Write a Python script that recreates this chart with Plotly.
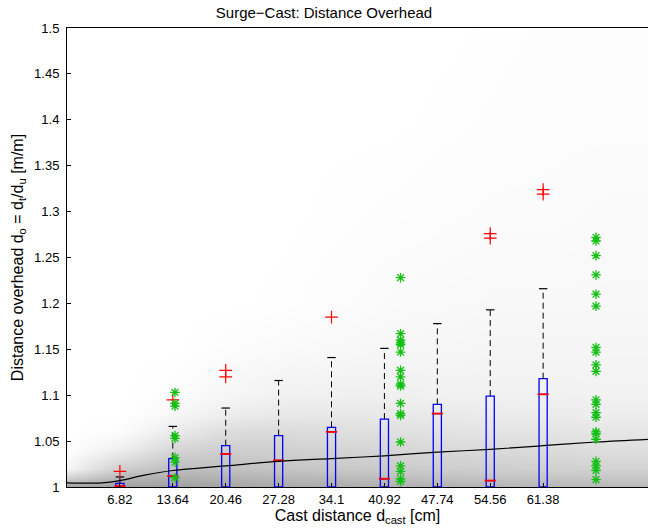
import plotly.graph_objects as go

# ---- data ----
cast_dist = [6.82, 13.64, 20.46, 27.28, 34.1, 40.92, 47.74, 54.56, 61.38]
tick_labels = ["6.82", "13.64", "20.46", "27.28", "34.1", "40.92", "47.74", "54.56", "61.38"]
q1 = [1.0, 1.0, 1.0, 1.0, 1.0, 1.0, 1.0, 1.0, 1.0]
median = [1.001, 1.012, 1.036, 1.029, 1.060, 1.009, 1.080, 1.007, 1.101]
q3 = [1.004, 1.031, 1.045, 1.056, 1.065, 1.074, 1.090, 1.099, 1.118]
upper_whisker = [1.011, 1.066, 1.086, 1.116, 1.141, 1.151, 1.178, 1.193, 1.216]

outlier_x = [6.82, 13.64, 20.46, 20.46, 34.1, 54.56, 54.56, 61.38, 61.38]
outlier_y = [1.017, 1.095, 1.127, 1.120, 1.185, 1.276, 1.271, 1.324, 1.319]

star_a_x = 13.92
star_a_y = [1.103, 1.091, 1.088, 1.056, 1.053, 1.032, 1.027, 1.010]
star_b_x = 43.0
star_b_y = [1.228, 1.167, 1.160, 1.157, 1.155, 1.147, 1.127, 1.120, 1.112, 1.110,
            1.091, 1.080, 1.078, 1.049, 1.023, 1.017, 1.009, 1.006]
star_c_x = 68.2
star_c_y = [1.272, 1.268, 1.252, 1.231, 1.210, 1.197, 1.152, 1.147, 1.133, 1.126,
            1.095, 1.090, 1.081, 1.076, 1.060, 1.058, 1.052, 1.028, 1.023, 1.018, 1.008]

mean_x = [0, 4.5, 6.82, 10, 13.64, 20.46, 27.28, 34.1, 40.92, 47.74, 54.56, 61.38, 68.2, 75]
mean_y = [1.0045, 1.0045, 1.007, 1.013, 1.018, 1.023, 1.028, 1.031, 1.034, 1.038, 1.041, 1.045, 1.049, 1.052]

# background density (gray level 0-255)
bg_x = [0, 7, 14, 21, 28, 35, 42, 49, 56, 63, 70, 75]
bg_y = [1.0, 1.01, 1.02, 1.04, 1.06, 1.08, 1.10, 1.15, 1.2, 1.3, 1.4, 1.5]
bg_gray = [
    [160, 160, 160, 165, 170, 172, 175, 178, 180, 182, 185, 185],
    [210, 180, 175, 178, 182, 186, 190, 192, 195, 196, 198, 198],
    [245, 205, 190, 192, 196, 200, 202, 205, 206, 208, 210, 210],
    [255, 238, 212, 206, 208, 212, 214, 217, 218, 219, 222, 222],
    [255, 252, 234, 220, 218, 222, 224, 226, 228, 228, 230, 230],
    [255, 255, 247, 237, 232, 232, 233, 234, 235, 236, 237, 237],
    [255, 255, 252, 246, 241, 240, 240, 241, 241, 241, 242, 242],
    [255, 255, 255, 252, 250, 248, 246, 246, 245, 245, 245, 245],
    [255, 255, 255, 255, 254, 252, 250, 249, 248, 248, 248, 248],
    [255, 255, 255, 255, 255, 254, 253, 252, 251, 251, 250, 250],
    [255, 255, 255, 255, 255, 255, 255, 254, 253, 252, 252, 252],
    [255, 255, 255, 255, 255, 255, 255, 255, 254, 253, 253, 253],
]

fig = go.Figure()

fig.add_trace(go.Heatmap(
    x=bg_x, y=bg_y, z=bg_gray, zmin=0, zmax=255, zsmooth="best",
    colorscale=[[0, "rgb(0,0,0)"], [1, "rgb(255,255,255)"]],
    showscale=False, hoverinfo="skip"))

# whiskers (dashed black)
for xv, top, w in zip(cast_dist, q3, upper_whisker):
    fig.add_trace(go.Scatter(x=[xv, xv], y=[top, w], mode="lines",
                             line=dict(color="black", width=1, dash="6px,4px"),
                             showlegend=False, hoverinfo="skip"))
fig.add_trace(go.Scatter(x=cast_dist, y=upper_whisker, mode="markers",
                         marker=dict(symbol="line-ew-open", size=6, color="black",
                                     line=dict(color="black", width=1.2)),
                         showlegend=False, hoverinfo="skip"))

# boxes
for xv, a, m, b in zip(cast_dist, q1, median, q3):
    fig.add_trace(go.Box(x=[xv], q1=[a], median=[m], q3=[b],
                         lowerfence=[a], upperfence=[b], width=1.05,
                         line=dict(color="blue", width=1.3), whiskerwidth=0,
                         fillcolor="rgba(0,0,0,0)", boxpoints=False,
                         showlegend=False, hoverinfo="skip"))

# medians in red
fig.add_trace(go.Scatter(x=cast_dist, y=median, mode="markers",
                         marker=dict(symbol="line-ew-open", size=8, color="red",
                                     line=dict(color="red", width=1.8)),
                         showlegend=False, hoverinfo="skip"))

# mean line
fig.add_trace(go.Scatter(x=mean_x, y=mean_y, mode="lines",
                         line=dict(color="black", width=1.2, shape="spline"),
                         showlegend=False, hoverinfo="skip"))

# outliers
fig.add_trace(go.Scatter(x=outlier_x, y=outlier_y, mode="markers",
                         marker=dict(symbol="cross-thin-open", size=9, color="red",
                                     line=dict(color="red", width=1.2)),
                         showlegend=False, hoverinfo="skip"))

# green stars
for sx, sy in [(star_a_x, star_a_y), (star_b_x, star_b_y), (star_c_x, star_c_y)]:
    fig.add_trace(go.Scatter(x=[sx] * len(sy), y=sy, mode="markers",
                             marker=dict(symbol="asterisk-open", size=8, color="#12c012",
                                         line=dict(color="#12c012", width=1.3)),
                             showlegend=False, hoverinfo="skip"))

font = "Liberation Sans, Arial, sans-serif"
yt = [1.0, 1.05, 1.1, 1.15, 1.2, 1.25, 1.3, 1.35, 1.4, 1.45, 1.5]
yt_text = ["1", "1.05", "1.1", "1.15", "1.2", "1.25", "1.3", "1.35", "1.4", "1.45", "1.5"]

fig.update_layout(
    width=648, height=528,
    margin=dict(l=67, r=0, t=28, b=41),
    paper_bgcolor="white", plot_bgcolor="white",
    font=dict(family=font, size=13, color="black"),
    title=dict(text="Surge\u2212Cast: Distance Overhead", x=0.5, xanchor="center",
               y=1 - 13 / 528, yanchor="middle", font=dict(size=15, family=font)),
    xaxis=dict(range=[0, 74.9], tickvals=cast_dist, ticktext=tick_labels,
               ticks="inside", ticklen=4, tickcolor="black",
               showline=True, linecolor="black", linewidth=1, mirror=True,
               showgrid=True, gridcolor="rgba(0,0,0,0.35)", griddash="1px,12px", gridwidth=1,
               zeroline=False, tickfont=dict(size=13),
               title=dict(text="Cast distance d<sub>cast</sub> [cm]", standoff=2,
                          font=dict(size=16))),
    yaxis=dict(range=[1.0, 1.5], tickvals=yt, ticktext=yt_text,
               ticks="inside", ticklen=4, tickcolor="black",
               showline=True, linecolor="black", linewidth=1,
               showgrid=True, gridcolor="rgba(0,0,0,0.35)", griddash="1px,12px", gridwidth=1,
               zeroline=False, tickfont=dict(size=13), ticklabelstandoff=4,
               title=dict(text="Distance overhead d<sub>o</sub> = d<sub>t</sub>/d<sub>u</sub> [m/m]",
                          standoff=6, font=dict(size=16))),
)

fig.write_html("out.html")
